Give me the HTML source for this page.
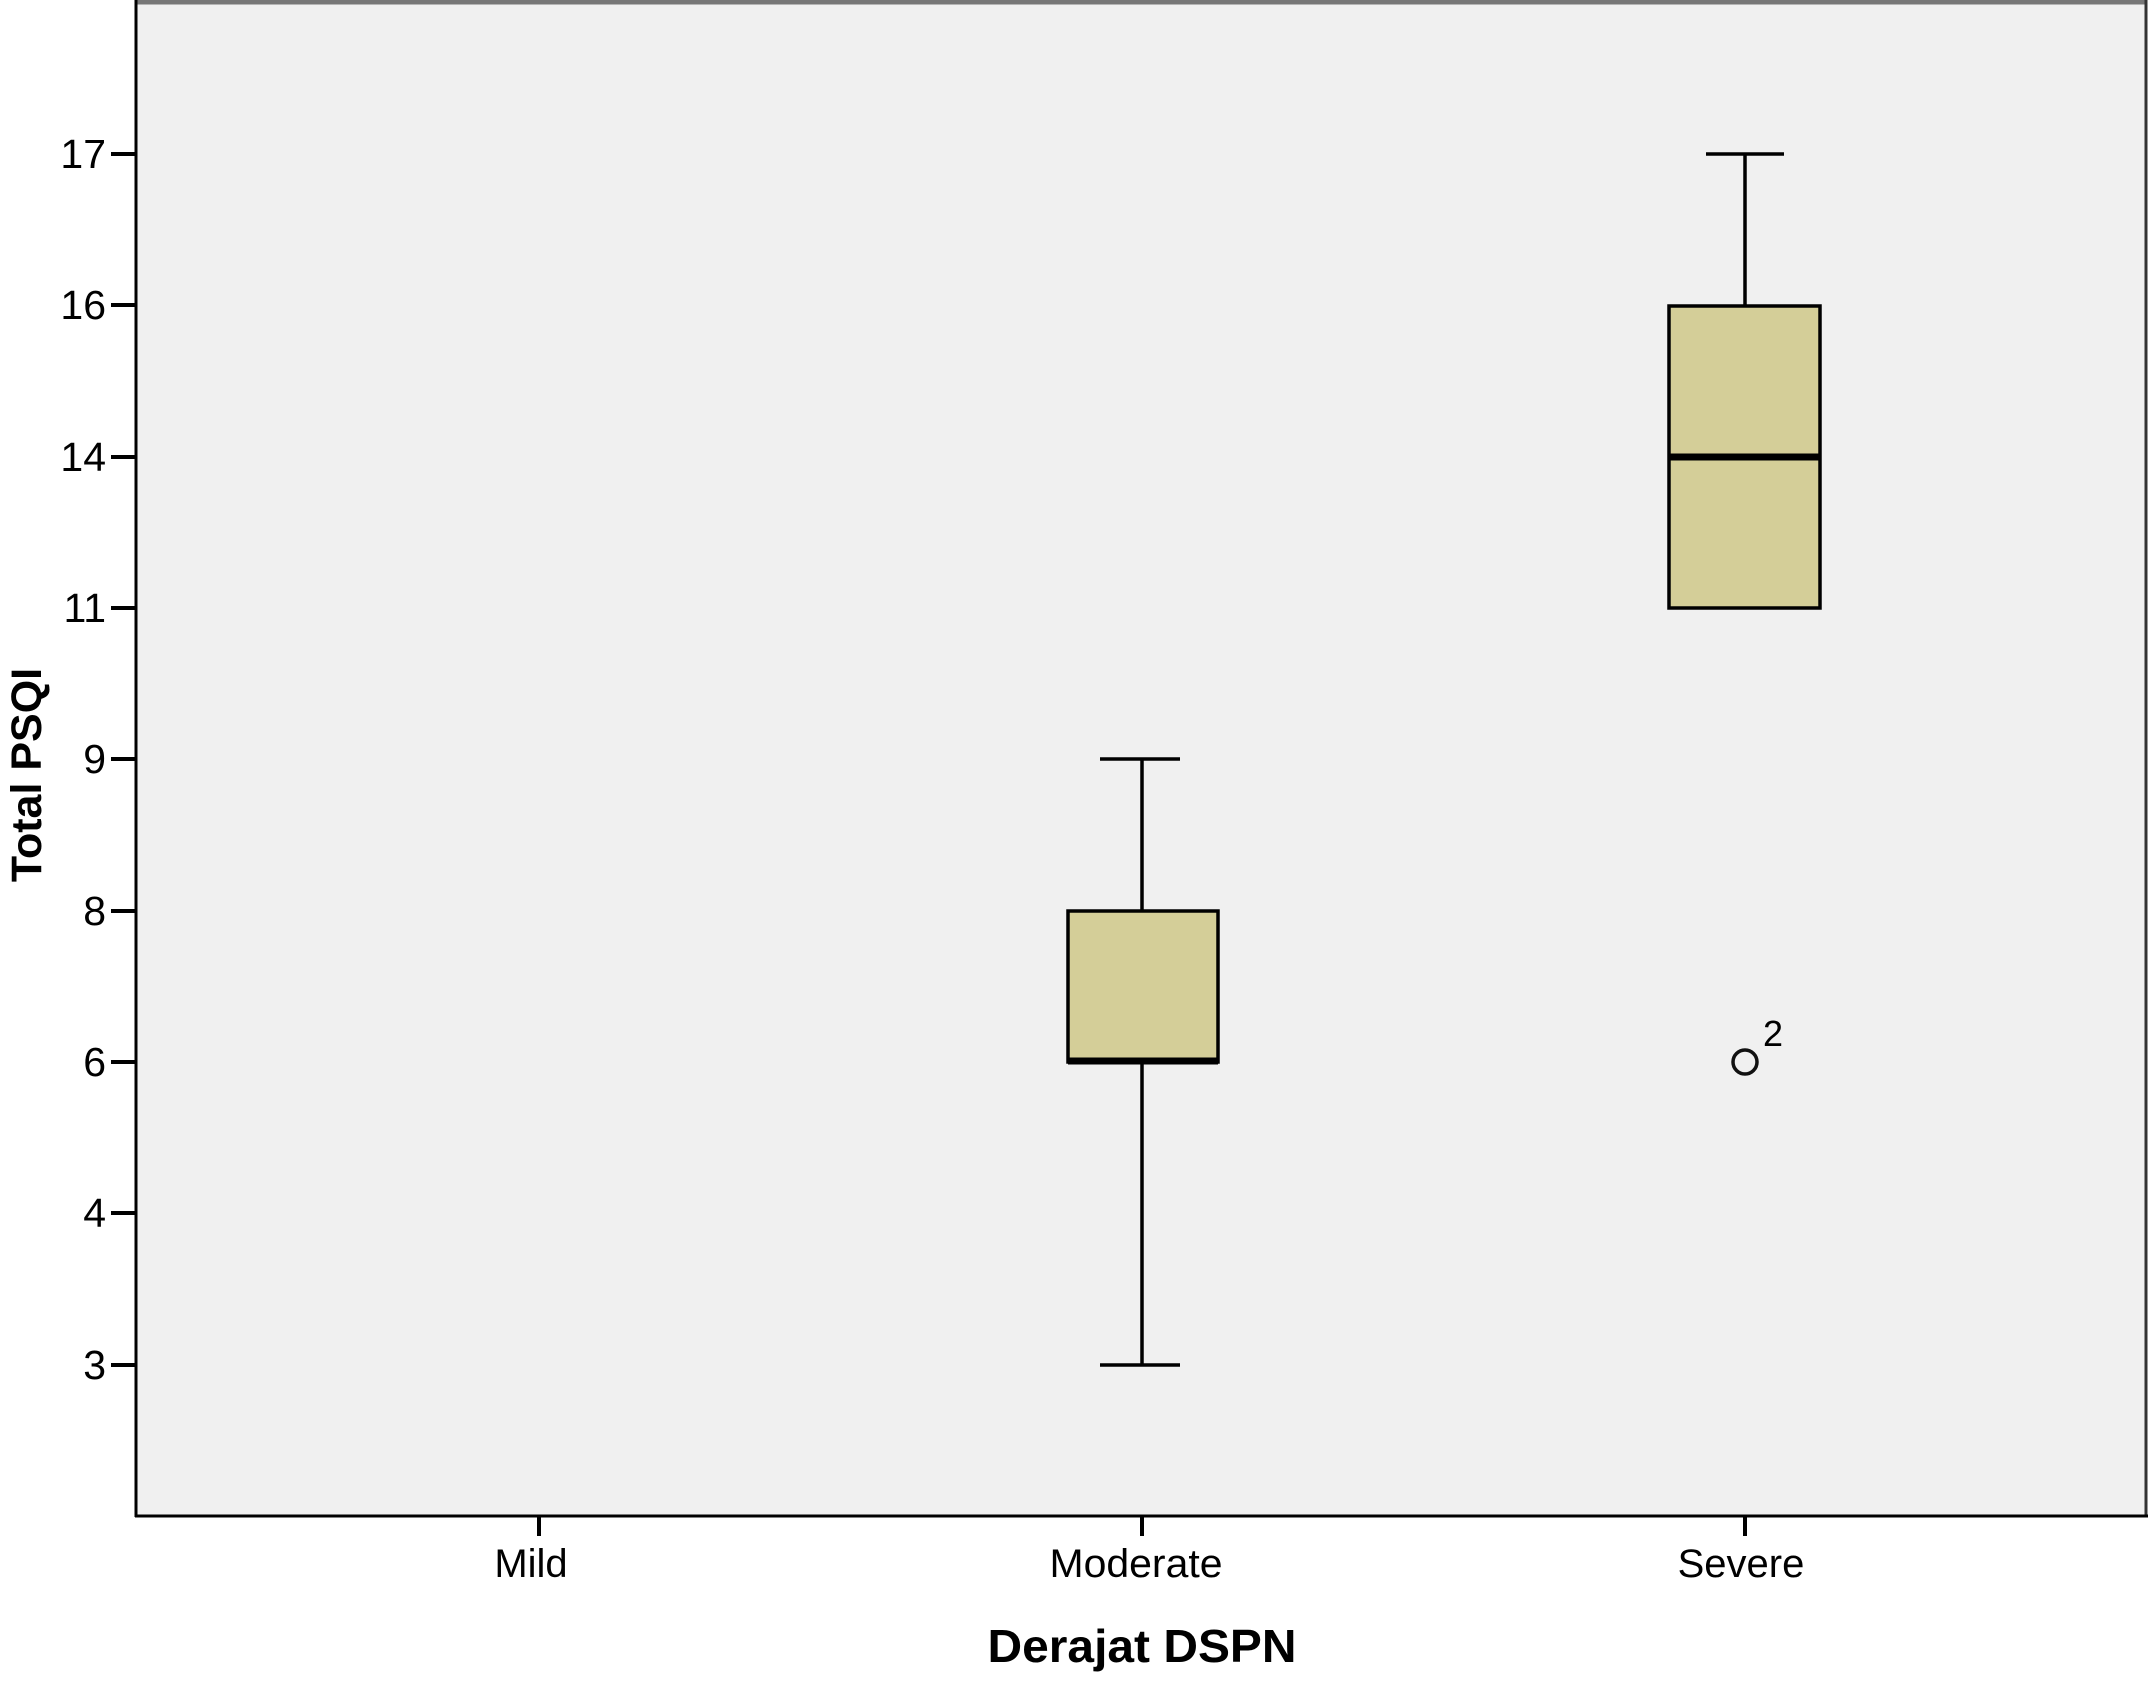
<!DOCTYPE html>
<html><head><meta charset="utf-8"><style>html,body{margin:0;padding:0;background:#fff}svg{display:block}</style></head>
<body>
<svg width="2151" height="1685" viewBox="0 0 2151 1685" xmlns="http://www.w3.org/2000/svg" font-family="Liberation Sans, Arial, sans-serif">
<rect x="136" y="3" width="2010" height="1513" fill="#f0f0f0"/>
<line x1="136" y1="2" x2="2146" y2="2" stroke="#777" stroke-width="5"/>
<line x1="2146" y1="0" x2="2146" y2="1516" stroke="#333" stroke-width="3"/>
<line x1="136" y1="0" x2="136" y2="1517" stroke="#000" stroke-width="3"/>
<line x1="135" y1="1516" x2="2148" y2="1516" stroke="#000" stroke-width="3"/>
<g stroke="#000" stroke-width="4">
<line x1="111" y1="154" x2="136" y2="154"/>
<line x1="111" y1="305" x2="136" y2="305"/>
<line x1="111" y1="457" x2="136" y2="457"/>
<line x1="111" y1="608" x2="136" y2="608"/>
<line x1="111" y1="759" x2="136" y2="759"/>
<line x1="111" y1="911" x2="136" y2="911"/>
<line x1="111" y1="1062" x2="136" y2="1062"/>
<line x1="111" y1="1213" x2="136" y2="1213"/>
<line x1="111" y1="1365" x2="136" y2="1365"/>
<line x1="539" y1="1516" x2="539" y2="1536"/>
<line x1="1142" y1="1516" x2="1142" y2="1536"/>
<line x1="1745" y1="1516" x2="1745" y2="1536"/>
</g>
<g font-size="41" text-anchor="end" fill="#000">
<text x="106" y="168">17</text>
<text x="106" y="319">16</text>
<text x="106" y="471">14</text>
<text x="106" y="622">11</text>
<text x="106" y="773">9</text>
<text x="106" y="925">8</text>
<text x="106" y="1076">6</text>
<text x="106" y="1227">4</text>
<text x="106" y="1379">3</text>
</g>
<g font-size="40" text-anchor="middle" fill="#000">
<text x="531" y="1577">Mild</text>
<text x="1136" y="1577" textLength="173" lengthAdjust="spacingAndGlyphs">Moderate</text>
<text x="1741" y="1577">Severe</text>
</g>
<text x="1142" y="1662" font-size="46" font-weight="bold" text-anchor="middle" textLength="309" lengthAdjust="spacingAndGlyphs">Derajat DSPN</text>
<text transform="translate(41,775) rotate(-90)" font-size="43" font-weight="bold" text-anchor="middle">Total PSQI</text>
<!-- Moderate -->
<g stroke="#000" stroke-width="3.5">
<line x1="1142" y1="759" x2="1142" y2="911"/>
<line x1="1142" y1="1062" x2="1142" y2="1365"/>
<line x1="1100" y1="759" x2="1180" y2="759"/>
<line x1="1100" y1="1365" x2="1180" y2="1365"/>
<rect x="1068" y="911" width="150" height="151" fill="#d4ce98"/>
</g>
<line x1="1068" y1="1061" x2="1218" y2="1061" stroke="#000" stroke-width="7"/>
<!-- Severe -->
<g stroke="#000" stroke-width="3.5">
<line x1="1745" y1="154" x2="1745" y2="306"/>
<line x1="1706" y1="154" x2="1784" y2="154"/>
<rect x="1669" y="306" width="151" height="302" fill="#d4ce98"/>
</g>
<line x1="1669" y1="457" x2="1820" y2="457" stroke="#000" stroke-width="7"/>
<circle cx="1745" cy="1062" r="12" fill="none" stroke="#111" stroke-width="3.5"/>
<text x="1763" y="1046" font-size="36" fill="#000">2</text>
</svg>
</body></html>
